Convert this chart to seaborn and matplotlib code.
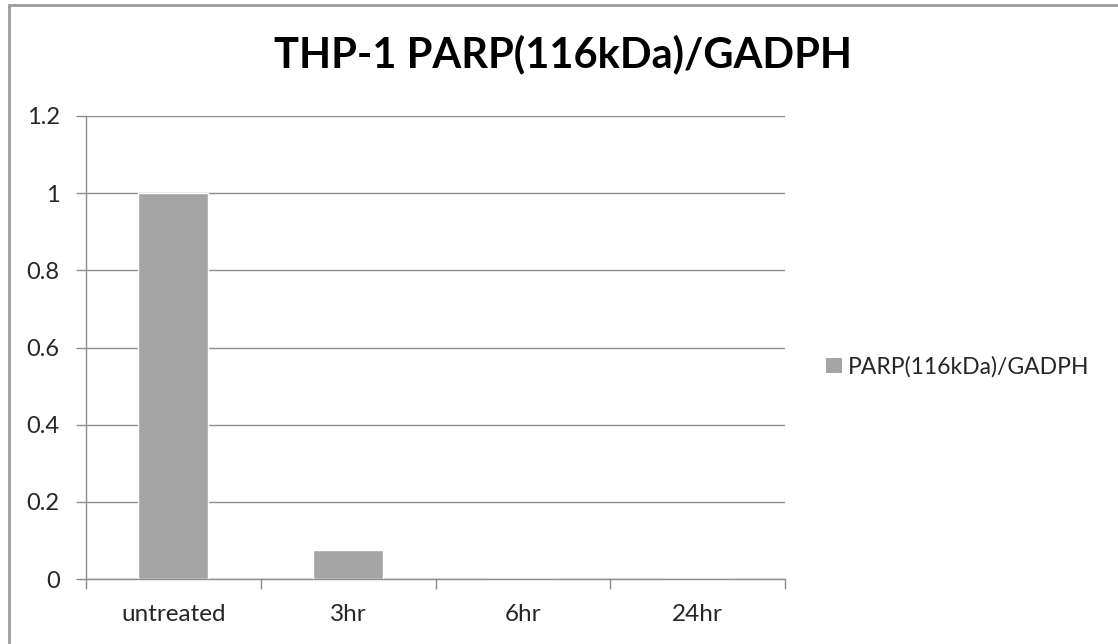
import matplotlib
matplotlib.use("Agg")
import matplotlib.pyplot as plt
import seaborn as sns
import pandas as pd
from matplotlib.patches import Rectangle, Patch

categories = ["untreated", "3hr", "6hr", "24hr"]
values = [1.0, 0.075, 0.0, 0.0]
series_name = "PARP(116kDa)/GADPH"
title = "THP-1 PARP(116kDa)/GADPH"
yticks = [0, 0.2, 0.4, 0.6, 0.8, 1, 1.2]
ytick_labels = ["0", "0.2", "0.4", "0.6", "0.8", "1", "1.2"]

sns.set_theme(style="white")
plt.rcParams['font.family'] = ['Lato', 'DejaVu Sans']

bar_color = "#a5a5a5"
line_color = "#8c8c8c"
text_color = "#262626"

df = pd.DataFrame({"category": categories, "value": values})

W, H = 1118, 644
fig = plt.figure(figsize=(W / 100, H / 100), dpi=100)
ax = fig.add_axes([86 / W, (H - 579) / H, 699 / W, 463 / H])

sns.barplot(data=df, x="category", y="value", color=bar_color, width=0.4,
            saturation=1, ax=ax, zorder=3)

ax.set_ylim(0, 1.2)
ax.set_xlim(-0.5, len(categories) - 0.5)
ax.set_yticks(yticks)
ax.set_yticklabels(ytick_labels)
ax.set_xlabel("")
ax.set_ylabel("")
ax.yaxis.grid(True, color=line_color, linewidth=1, zorder=0)
ax.set_axisbelow(True)

for s in ["top", "right"]:
    ax.spines[s].set_visible(False)
for s in ["left", "bottom"]:
    ax.spines[s].set_color(line_color)
    ax.spines[s].set_linewidth(1)

ax.tick_params(axis="y", which="major", length=7, width=1, color=line_color,
               labelsize=17, labelcolor=text_color, pad=12, left=True)
ax.tick_params(axis="x", which="major", length=0, labelsize=17.5,
               labelcolor=text_color, pad=18)
ax.set_xticks([i - 0.5 for i in range(len(categories) + 1)], minor=True)
ax.tick_params(axis="x", which="minor", length=7, width=1, color=line_color,
               bottom=True)

fig.text(563 / W, 1 - 67 / H, title, ha="center", va="baseline", fontsize=30,
         fontweight="bold", color="black")

handle = Patch(facecolor=bar_color, edgecolor="none", label=series_name)
fig.legend(handles=[handle], loc="center left",
           bbox_to_anchor=(826 / W, 1 - 367 / H),
           frameon=False, fontsize=16.5, handlelength=0.7, handleheight=0.62,
           handletextpad=0.25, borderpad=0, borderaxespad=0,
           labelcolor=text_color)

fig.patches.append(Rectangle((9 / W, -0.05), 1.2, 1.05 - 5 / H,
                             transform=fig.transFigure, fill=False,
                             edgecolor="#9a9a9a", linewidth=2))

fig.savefig("out.png", dpi=100)
